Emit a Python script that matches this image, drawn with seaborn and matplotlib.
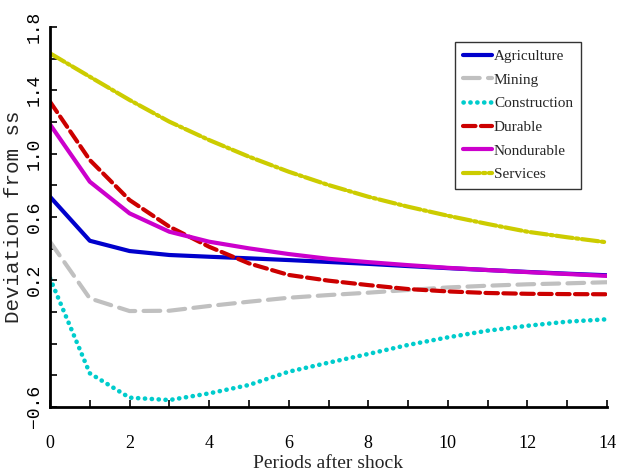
import seaborn as sns
import matplotlib
matplotlib.use("Agg")
import matplotlib.pyplot as plt

periods = list(range(15))
agriculture = [0.728, 0.450, 0.385, 0.360, 0.349, 0.339, 0.328, 0.316, 0.304, 0.290, 0.277, 0.265, 0.253, 0.242, 0.232]
mining = [0.444, 0.086, 0.006, 0.008, 0.038, 0.065, 0.090, 0.107, 0.122, 0.139, 0.155, 0.166, 0.175, 0.181, 0.188]
construction = [0.213, -0.387, -0.541, -0.556, -0.514, -0.461, -0.377, -0.320, -0.265, -0.208, -0.160, -0.118, -0.087, -0.061, -0.046]
durable = [1.328, 0.960, 0.707, 0.539, 0.412, 0.307, 0.234, 0.198, 0.170, 0.145, 0.130, 0.120, 0.115, 0.113, 0.112]
nondurable = [1.185, 0.823, 0.623, 0.507, 0.444, 0.402, 0.366, 0.336, 0.315, 0.296, 0.279, 0.265, 0.252, 0.240, 0.228]
services = [1.634, 1.486, 1.339, 1.202, 1.086, 0.981, 0.886, 0.802, 0.728, 0.665, 0.608, 0.556, 0.507, 0.472, 0.440]

y_ticks = [-0.6, -0.4, -0.2, 0.0, 0.2, 0.4, 0.6, 0.8, 1.0, 1.2, 1.4, 1.6, 1.8]
y_ticklabels = ["\u22120.6", "", "", "", "0.2", "", "0.6", "", "1.0", "", "1.4", "", "1.8"]

sns.set_style("ticks")
plt.rcParams["xtick.direction"] = "in"
plt.rcParams["ytick.direction"] = "in"

fig = plt.figure(figsize=(6.26, 4.76), dpi=100)
ax = fig.add_axes([50 / 626, 69 / 476, 557 / 626, 380 / 476])

#---------LINES
series = [
    ("Agriculture", agriculture, "#0000cc", None, 3),
    ("Mining", mining, "#c0c0c0", (4, 2), 3),
    ("Construction", construction, "#00cccc", (0.05, 1.45), 3.3),
    ("Durable", durable, "#cc0000", (3, 1.3), 3),
    ("Nondurable", nondurable, "#cc00cc", None, 3),
    ("Services", services, "#cccc00", (4, 0.8, 0.6, 0.8), 3),
]
for name, vals, col, dash, lw in series:
    sns.lineplot(x=periods, y=vals, color=col, linewidth=lw, label=name, ax=ax)
    ln = ax.lines[-1]
    if dash is not None:
        ln.set_dashes(dash)
        ln.set_dash_capstyle("round")

ax.set_xlim(0, 14)
ax.set_ylim(-0.6, 1.8)
ax.set_xticks(range(0, 15))
ax.set_xticklabels([str(i) if i % 2 == 0 else "" for i in range(15)],
                   fontfamily="Liberation Serif", fontsize=13)
ax.set_yticks(y_ticks)
ax.set_yticklabels(y_ticklabels, rotation=90, va="center",
                   fontfamily="Liberation Mono", fontsize=13)
ax.tick_params(axis="x", length=5, width=1.2, pad=20, colors="black")
ax.tick_params(axis="y", length=5, width=1.2, pad=5, colors="black")

sns.despine(ax=ax)
for s in ["left", "bottom"]:
    ax.spines[s].set_linewidth(2)
    ax.spines[s].set_color("black")

ax.set_xlabel("Periods after shock", fontfamily="Liberation Serif", fontsize=14, labelpad=2)
ax.set_ylabel("Deviation from ss", fontfamily="Liberation Mono", fontsize=15, labelpad=2)

leg = ax.legend(loc="upper left", bbox_to_anchor=(0.727, 0.961), borderaxespad=0,
                prop={"family": "Liberation Serif", "size": 11},
                handlelength=1.9, handletextpad=0.15, labelspacing=0.65,
                borderpad=0.5, fancybox=False, frameon=True)
leg.get_frame().set_edgecolor("black")
leg.get_frame().set_linewidth(1)

fig.savefig("out.png", dpi=100)
